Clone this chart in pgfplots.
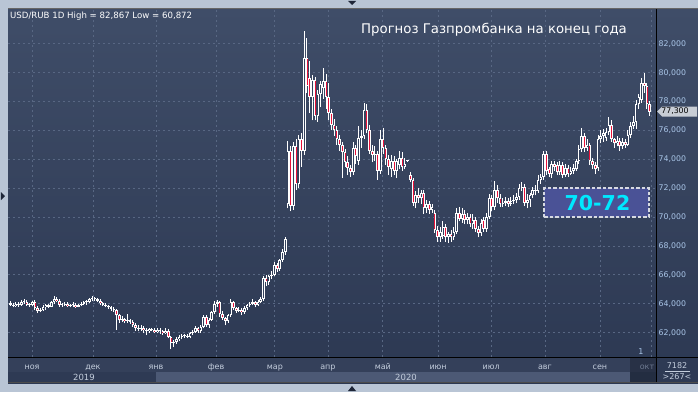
\documentclass[border=0pt]{standalone}
\usepackage{fontspec}
\setmainfont{DejaVu Sans}
\usepackage{pgfplots}
\usepackage{pgfplotstable}
\usetikzlibrary{backgrounds}
\pgfplotsset{compat=1.18}
\definecolor{framec}{RGB}{185,197,213}
\definecolor{bgtop}{RGB}{63,77,104}
\definecolor{bgbot}{RGB}{44,56,82}
\definecolor{bgmid}{RGB}{52,65,92}
\definecolor{gridc}{RGB}{88,103,131}
\definecolor{candred}{RGB}{232,18,58}
\definecolor{ticklab}{RGB}{170,198,232}
\definecolor{monthlab}{RGB}{195,205,220}
\definecolor{boxfill}{RGB}{74,82,150}
\definecolor{boxline}{RGB}{215,218,226}
\definecolor{boxtext}{RGB}{0,232,255}
\definecolor{botrow}{RGB}{52,64,90}
\definecolor{yearrow}{RGB}{46,58,84}
\definecolor{band}{RGB}{76,89,117}
\definecolor{tagc}{RGB}{200,205,213}
\definecolor{oktc}{RGB}{110,122,145}
\definecolor{tri}{RGB}{30,38,56}

\pgfplotstableread{
o h l c
64.05 64.2 63.85 63.95
63.95 64.05 63.75 63.85
63.85 64.15 63.8 64.0
64.0 64.1 63.8 63.9
63.9 64.25 63.85 64.1
64.1 64.3 64.0 64.15
64.15 64.25 63.85 63.95
63.95 64.05 63.8 63.9
63.9 64.2 63.85 64.15
64.15 64.25 63.6 63.7
63.7 63.85 63.35 63.5
63.5 63.7 63.4 63.55
63.55 63.9 63.5 63.75
63.75 64.0 63.6 63.9
63.9 64.0 63.7 63.8
63.8 64.2 63.75 64.1
64.1 64.55 64.0 64.35
64.35 64.45 64.1 64.2
64.2 64.3 63.8 63.95
63.95 64.05 63.8 63.9
63.9 64.15 63.85 64.0
64.0 64.1 63.75 63.85
63.85 64.0 63.75 63.9
63.9 64.1 63.8 63.95
63.95 64.05 63.7 63.8
63.8 64.0 63.75 63.9
63.9 64.1 63.85 64.0
64.0 64.2 63.9 64.1
64.1 64.25 63.95 64.15
64.15 64.4 64.05 64.3
64.3 64.55 64.2 64.4
64.4 64.5 64.2 64.3
64.3 64.4 64.1 64.2
64.2 64.3 63.95 64.05
64.05 64.15 63.85 63.95
63.95 64.05 63.75 63.85
63.85 63.95 63.65 63.75
63.75 63.85 63.5 63.65
63.65 63.75 63.45 63.55
63.55 63.65 62.2 63.2
63.2 63.3 62.7 62.85
62.85 63.15 62.75 62.95
62.95 63.05 62.65 62.8
62.8 63.3 62.7 62.85
62.85 62.95 62.6 62.75
62.75 62.85 62.4 62.55
62.55 62.65 62.15 62.3
62.3 62.5 62.1 62.25
62.25 62.5 62.15 62.35
62.35 62.45 62.0 62.2
62.2 62.35 61.85 62.1
62.1 62.35 62.0 62.25
62.25 62.35 62.1 62.2
62.2 62.3 61.95 62.05
62.05 62.3 61.95 62.2
62.2 62.3 61.9 62.1
62.1 62.2 61.85 61.95
61.95 62.3 61.9 62.15
62.15 62.25 61.6 61.7
61.7 61.75 60.87 61.3
61.3 61.5 61.0 61.35
61.35 61.7 61.25 61.55
61.55 61.85 61.45 61.7
61.7 61.9 61.55 61.75
61.75 61.9 61.6 61.8
61.8 61.9 61.6 61.7
61.7 62.05 61.6 61.95
61.95 62.2 61.85 62.05
62.05 62.45 62.0 62.3
62.3 62.4 62.0 62.1
62.1 62.5 62.0 62.4
62.4 63.25 62.3 63.1
63.1 63.2 62.4 62.5
62.5 63.0 62.35 62.9
62.9 63.5 62.8 63.4
63.4 64.2 63.3 64.0
64.0 64.25 63.8 64.1
64.1 64.2 63.1 63.3
63.3 63.5 62.9 63.0
63.0 63.1 62.5 62.8
62.8 63.3 62.7 63.2
63.2 64.3 63.1 64.1
64.1 64.2 63.6 63.7
63.7 63.8 63.35 63.5
63.5 63.75 63.4 63.6
63.6 63.7 63.2 63.4
63.4 63.85 63.3 63.7
63.7 64.0 63.6 63.9
63.9 64.1 63.8 64.0
64.0 64.3 63.9 64.1
64.1 64.2 63.75 63.9
63.9 64.25 63.85 64.15
64.15 64.5 64.05 64.3
64.3 65.9 64.2 65.8
65.8 66.0 65.2 65.5
65.5 66.0 65.3 65.9
65.9 66.3 65.7 66.0
66.0 66.9 65.9 66.7
66.7 66.8 66.2 66.4
66.4 67.1 66.3 67.0
67.0 67.8 66.9 67.6
67.6 68.6 67.4 68.5
70.9 75.3 70.6 74.6
74.6 74.9 70.4 70.8
70.8 75.2 70.5 74.9
74.9 75.4 71.9 72.3
72.3 75.7 72.0 75.4
75.4 75.8 73.5 74.6
74.6 82.867 74.3 81.0
81.0 82.4 78.6 79.1
79.6 80.8 77.2 78.3
78.3 79.8 76.7 79.5
79.5 79.7 76.7 77.0
77.0 78.8 76.6 78.5
78.5 79.4 77.6 79.2
78.9 80.3 78.2 79.4
79.4 79.9 77.5 78.3
78.3 79.3 76.7 77.2
77.2 77.5 76.0 76.4
76.4 76.8 75.6 76.0
76.0 76.3 75.0 75.4
75.4 75.7 74.6 75.0
75.0 75.2 72.7 74.5
74.5 74.7 73.5 73.8
73.8 74.2 72.9 73.4
73.4 73.6 72.8 73.1
73.1 75.2 72.9 74.8
74.8 75.0 73.7 74.2
73.9 76.3 73.6 75.5
75.5 76.0 74.8 75.6
75.6 77.9 75.4 77.4
77.4 77.8 75.8 76.0
76.0 76.4 74.4 74.6
74.6 75.0 73.8 74.3
74.3 74.9 73.9 74.4
74.4 74.6 72.6 73.2
73.2 76.0 73.0 75.4
75.4 76.2 74.4 74.8
74.8 75.0 73.6 74.0
74.0 74.3 72.9 73.5
73.3 74.3 72.8 73.9
73.9 74.2 72.9 73.2
73.2 74.0 72.7 73.9
73.6 74.6 73.3 74.1
74.1 74.5 73.2 73.5
73.5 74.1 73.3 73.7
73.85 73.9 73.8 73.85
72.9 73.1 72.4 72.6
72.6 72.7 70.8 71.0
71.0 71.8 70.6 71.5
71.5 72.0 71.0 71.3
71.3 71.9 70.9 71.7
71.7 71.9 70.2 70.6
70.6 71.2 70.3 70.9
70.9 71.1 70.2 70.5
70.5 70.9 70.3 70.7
70.3 70.5 68.9 69.1
69.1 69.4 68.3 68.6
68.6 69.3 68.3 69.0
68.7 69.7 68.5 69.3
69.3 69.5 68.3 68.6
68.6 69.0 68.2 68.8
68.8 69.1 68.3 68.6
68.6 69.3 68.4 69.0
69.0 70.6 68.8 70.3
70.3 70.7 69.7 69.9
69.9 70.6 69.6 70.2
70.2 70.5 69.5 69.8
69.8 70.3 69.5 70.0
70.0 70.2 69.3 69.5
69.5 70.2 69.2 69.8
69.8 70.0 69.0 69.2
69.2 69.4 68.6 68.9
68.9 69.9 68.7 69.6
69.8 70.0 69.0 69.2
69.2 70.3 69.0 70.0
70.0 71.6 69.9 71.3
71.3 71.5 70.4 70.7
70.7 72.5 70.5 71.9
71.9 72.2 71.0 71.3
71.3 71.6 70.7 70.9
70.9 71.3 70.7 71.0
71.0 71.4 70.8 71.1
71.1 71.3 70.7 70.9
70.9 71.4 70.8 71.1
71.1 71.5 70.9 71.2
71.2 71.7 71.0 71.4
71.4 72.3 71.2 72.0
72.0 72.4 71.8 72.1
72.1 72.3 70.8 71.0
71.0 71.6 70.6 71.2
71.2 71.7 70.7 71.5
71.5 72.1 71.3 71.9
71.9 72.2 71.5 71.8
71.8 72.9 71.7 72.6
72.6 73.0 72.3 72.8
72.8 74.6 72.6 74.4
74.4 74.6 72.9 73.2
73.3 73.5 72.8 73.0
73.0 73.9 72.7 73.7
73.7 73.9 73.2 73.5
73.6 73.8 72.9 73.1
73.1 73.9 72.9 73.6
73.6 73.8 72.7 72.9
72.9 73.7 72.8 73.4
73.4 73.6 72.8 73.0
73.0 73.5 72.9 73.2
73.2 73.7 73.0 73.4
73.3 74.0 73.2 73.9
73.9 75.0 73.7 74.7
74.7 76.2 74.5 75.6
75.6 75.8 74.5 74.8
74.8 75.4 74.6 75.0
75.0 75.1 73.6 73.9
73.9 74.1 73.3 73.6
73.6 73.8 73.0 73.3
73.4 75.7 73.2 75.4
75.4 76.0 75.1 75.6
75.6 76.1 75.2 75.8
75.5 76.2 75.3 75.9
75.9 76.9 75.7 76.4
76.4 76.7 75.2 75.4
75.4 75.5 74.8 75.1
75.1 75.6 74.9 75.3
75.3 75.5 74.6 74.9
74.9 75.5 74.7 75.2
75.2 75.4 74.8 75.0
75.0 76.0 74.9 75.7
75.7 76.6 75.5 76.3
76.3 77.0 76.1 76.6
76.6 78.1 76.1 77.8
77.8 78.5 77.5 78.3
78.1 79.6 77.9 79.3
79.3 80.0 78.6 79.1
79.1 79.3 77.5 77.8
77.8 78.0 77.0 77.3
}\candles

\pgfplotsset{candle/.style={draw=none, no markers, forget plot,
  error bars/.cd, y dir=plus, y explicit, error mark=none, error bar style={#1}}}

\begin{document}
\begin{tikzpicture}[x=1bp,y=1bp]
\begin{axis}[
  width=648bp, height=349bp, scale only axis,
  xmin=-0.92, xmax=237.32, ymin=60.318, ymax=84.47,
  axis line style={draw=none}, major tick length=0,
  ytick={62,64,...,82}, yticklabel pos=right,
  yticklabel style={font=\fontsize{7.8bp}{9bp}\selectfont, text=ticklab, xshift=-0.8bp,
    /pgf/number format/.cd, fixed, fixed zerofill, precision=3, use comma, assume math mode=true},
  xtick={7.9,30.3,53.5,75.6,97.2,116.7,136.9,157.2,176.7,196.5,216.7,235.8},
  xticklabels={ноя,дек,янв,фев,мар,апр,май,июн,июл,авг,сен,{}},
  xticklabel style={font=\fontsize{8bp}{9bp}\selectfont, text=monthlab, anchor=base, yshift=-12bp},
  xmajorgrids, ymajorgrids,
  grid style={gridc, dash pattern=on 2bp off 3bp, line width=0.8bp},
]
\coordinate (O) at (rel axis cs:0,0);
% wicks
\addplot[candle={draw=white, line width=1bp, solid}]
  table[x expr=\coordindex, y=l, y error plus expr={\thisrow{h}-\thisrow{l}}] {\candles};
% bodies
\addplot[candle={draw=white, line width=2.6bp, solid}]
  table[x expr=\coordindex, y expr={min(\thisrow{o},\thisrow{c})},
        y error plus expr={max(abs(\thisrow{c}-\thisrow{o}),0.07)}] {\candles};
% inner of falling candles
\addplot[candle={draw=candred, line width=0.9bp, solid}]
  table[x expr=\coordindex, y expr={min(\thisrow{o},\thisrow{c})+0.07},
        y error plus expr={(\thisrow{c}<\thisrow{o}) ? max(abs(\thisrow{o}-\thisrow{c})-0.14,0) : 0}] {\candles};
% inner of rising candles
\addplot[candle={draw=bgmid, line width=0.9bp, solid}]
  table[x expr=\coordindex, y expr={min(\thisrow{o},\thisrow{c})+0.07},
        y error plus expr={(\thisrow{c}<\thisrow{o}) ? 0 : max(abs(\thisrow{o}-\thisrow{c})-0.14,0)}] {\candles};
% forecast box
\draw[fill=boxfill, draw=boxline, line width=1.8bp, dash pattern=on 3.5bp off 2bp]
  (axis cs:196.1,70.0) rectangle (axis cs:234.7,72.0);
\node[text=boxtext, font=\bfseries\fontsize{20.5bp}{22bp}\selectfont, inner sep=0]
  at (axis cs:215.8,71.0) {70-72};
\end{axis}
% background, panels and frame, behind the axis
\begin{scope}[on background layer, shift={(O)}, xshift=-8bp, yshift=-35bp]
\fill[framec] (0,0) rectangle (698,392);
\shade[top color=bgtop, bottom color=bgbot] (8,9) rectangle (698,384);
\fill[botrow] (8,9) rectangle (698,35);
\fill[yearrow] (8,9) rectangle (656,20);
\fill[band] (156,9) rectangle (630,20);
\fill[black,opacity=0.22] (630,9) rectangle (656,35);
\fill[yearrow] (656,9) rectangle (698,35);
\end{scope}
\begin{scope}[shift={(O)}, xshift=-8bp, yshift=-35bp]
\draw[black, line width=1bp] (8,35) -- (698,35);
\draw[black, line width=1bp] (656,9) -- (656,384);
\draw[black!60, line width=0.8bp] (8,383.6) -- (698,383.6);
\draw[black!70, line width=0.8bp] (8,9.4) -- (698,9.4);
\node[anchor=base west, text=white, font=\fontsize{8.6bp}{10bp}\selectfont, inner sep=0]
  at (10,373.7) {USD/RUB 1D High = 82,867 Low = 60,872};
\node[anchor=base, text=white, font=\fontsize{13.3bp}{15bp}\selectfont, inner sep=0]
  at (494,359) {Прогноз Газпромбанка на конец года};
\node[anchor=base, text=oktc, font=\fontsize{8bp}{9bp}\selectfont, inner sep=0]
  at (647,23) {окт};
\fill[tagc] (657,280.5) -- (662,285.5) -- (697,285.5) -- (697,275.5) -- (662,275.5) -- cycle;
\node[text=black, font=\fontsize{7.8bp}{9bp}\selectfont, inner sep=0] at (675,280.5) {77,300};
\node[text=ticklab, font=\fontsize{8bp}{9bp}\selectfont, inner sep=0] at (641,40) {1};
\node[text=monthlab, font=\fontsize{8.5bp}{10bp}\selectfont, inner sep=0] at (84,15) {2019};
\node[text=monthlab, font=\fontsize{8.5bp}{10bp}\selectfont, inner sep=0] at (406,15) {2020};
\node[text=monthlab, font=\fontsize{8bp}{9bp}\selectfont, inner sep=0] at (677,26.5) {7182};
\draw[monthlab, line width=0.6bp] (665,21) -- (690,21);
\node[text=monthlab, font=\fontsize{8bp}{9bp}\selectfont, inner sep=0] at (677,15) {>267<};
\fill[tri] (348,391) -- (356,391) -- (352,387) -- cycle;
\fill[tri] (348,1) -- (356,1) -- (352,6) -- cycle;
\fill[tri] (1,200) -- (1,192) -- (5,196) -- cycle;
\pgfresetboundingbox
\useasboundingbox (0,0) rectangle (698,392);
\end{scope}
\end{tikzpicture}
\end{document}
